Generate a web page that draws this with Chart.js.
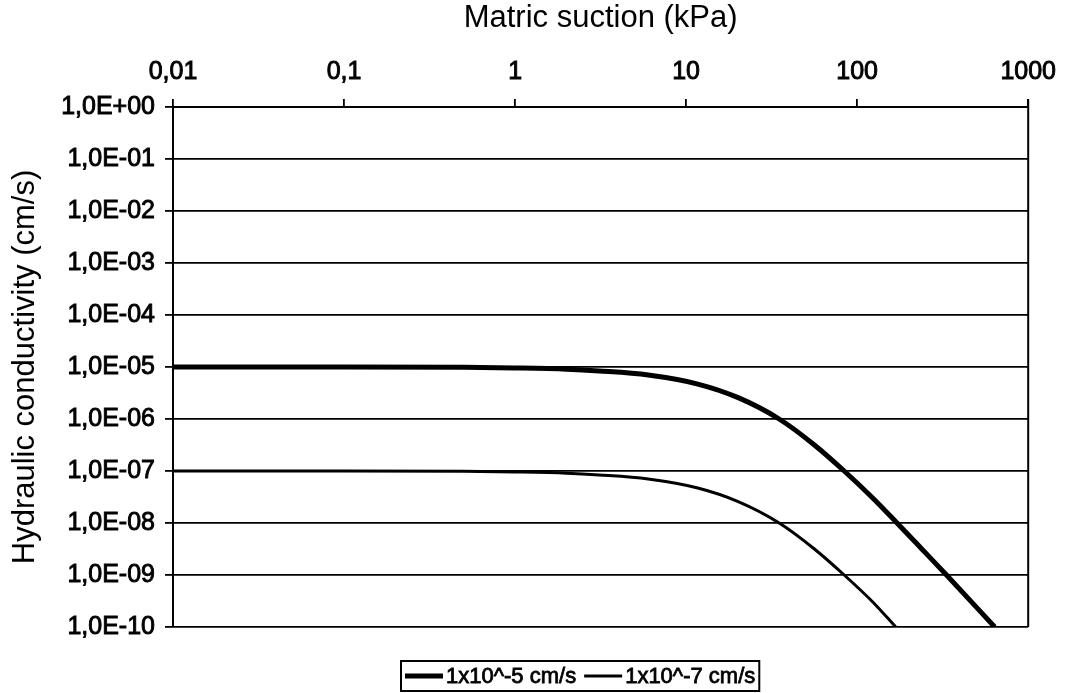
<!DOCTYPE html>
<html>
<head>
<meta charset="utf-8">
<script src="https://cdn.jsdelivr.net/npm/chart.js@4/dist/chart.umd.min.js"></script>
<style>
  html, body { margin: 0; padding: 0; background: #ffffff; }
  #wrap { width: 1068px; height: 693px; }
</style>
</head>
<body>
<div id="wrap"><canvas id="c" width="1068" height="693"></canvas></div>
<script>
// Matric suction (kPa) and hydraulic conductivity (cm/s) for two soils
const suctionHigh = [0.01, 0.1, 0.5, 1, 2, 3.1, 6, 11.7, 20, 35, 56, 84, 125, 171, 238, 333, 637];
const kHigh = [1.0e-5, 1.0e-5, 9.85e-6, 9.6e-6, 9.1e-6, 8.4e-6, 7.0e-6, 4.7e-6, 2.6e-6, 1.0e-6, 3.2e-7, 1.0e-7, 2.9e-8, 1.0e-8, 3.2e-9, 1.0e-9, 1.0e-10];

const suctionLow = [0.01, 0.1, 0.5, 1, 2, 3.1, 6, 11.7, 20, 35, 56, 84, 125, 168];
const kLow = [1.0e-7, 1.0e-7, 9.85e-8, 9.6e-8, 9.1e-8, 8.4e-8, 7.0e-8, 4.7e-8, 2.6e-8, 1.0e-8, 3.2e-9, 1.0e-9, 2.9e-10, 1.0e-10];

const seriesLabels = ['1x10^-5 cm/s', '1x10^-7 cm/s'];

const xTickValues = [0.01, 0.1, 1, 10, 100, 1000];
const xTickLabels = ['0,01', '0,1', '1', '10', '100', '1000'];
const yTickValues = [1e-10, 1e-9, 1e-8, 1e-7, 1e-6, 1e-5, 1e-4, 1e-3, 1e-2, 1e-1, 1e0];
const yTickLabels = ['1,0E-10', '1,0E-09', '1,0E-08', '1,0E-07', '1,0E-06', '1,0E-05', '1,0E-04', '1,0E-03', '1,0E-02', '1,0E-01', '1,0E+00'];

const FONT = "'Liberation Sans', Arial, sans-serif";

function toPoints(xs, ys) {
  return xs.map((x, i) => ({ x: x, y: ys[i] }));
}

function labelFor(values, labels, value) {
  const i = values.findIndex(v => Math.abs(Math.log10(v) - Math.log10(value)) < 1e-6);
  return i >= 0 ? labels[i] : '';
}

// Right-hand frame line and the boxed legend under the plot
const framePlugin = {
  id: 'frameAndLegend',
  afterDraw(chart) {
    const ctx = chart.ctx;
    const a = chart.chartArea;
    ctx.save();
    ctx.strokeStyle = '#000';
    ctx.lineWidth = 2;
    ctx.beginPath();
    ctx.moveTo(a.right, a.top - 8);
    ctx.lineTo(a.right, a.bottom);
    ctx.stroke();

    // legend
    ctx.font = '22px ' + FONT;
    const markLen = 38, gapMark = 3, gapItem = 8, pad = 4;
    const ds = chart.data.datasets;
    let w = pad;
    ds.forEach((d, i) => {
      w += markLen + gapMark + ctx.measureText(d.label).width;
      if (i < ds.length - 1) w += gapItem;
    });
    w += pad;
    const boxLeft = 401, boxTop = 661, boxH = 30;
    ctx.lineWidth = 2;
    ctx.strokeRect(boxLeft, boxTop, w, boxH);
    let x = boxLeft + pad;
    const cy = boxTop + boxH / 2;
    ctx.fillStyle = '#000';
    ctx.textBaseline = 'middle';
    ctx.textAlign = 'left';
    ds.forEach((d) => {
      ctx.lineWidth = d.borderWidth;
      ctx.beginPath();
      ctx.moveTo(x, cy);
      ctx.lineTo(x + markLen, cy);
      ctx.stroke();
      x += markLen + gapMark;
      ctx.lineWidth = 0.8;
      ctx.strokeText(d.label, x, cy + 1);
      ctx.fillText(d.label, x, cy + 1);
      x += ctx.measureText(d.label).width + gapItem;
    });
    ctx.restore();
  }
};

new Chart(document.getElementById('c'), {
  type: 'line',
  data: {
    datasets: [
      {
        label: seriesLabels[0],
        data: toPoints(suctionHigh, kHigh),
        borderColor: '#000',
        borderWidth: 5,
        pointRadius: 0,
        cubicInterpolationMode: 'monotone',
        fill: false
      },
      {
        label: seriesLabels[1],
        data: toPoints(suctionLow, kLow),
        borderColor: '#000',
        borderWidth: 3,
        pointRadius: 0,
        cubicInterpolationMode: 'monotone',
        fill: false
      }
    ]
  },
  options: {
    responsive: false,
    animation: false,
    layout: { padding: { left: 0, right: 36, top: 0, bottom: 66 } },
    plugins: {
      legend: { display: false },
      tooltip: { enabled: false }
    },
    scales: {
      x: {
        type: 'logarithmic',
        position: 'top',
        min: 0.01,
        max: 1000,
        afterBuildTicks(scale) {
          scale.ticks = xTickValues.map(v => ({ value: v }));
        },
        afterFit(scale) { scale.height = 107; },
        ticks: {
          autoSkip: false,
          maxRotation: 0,
          padding: 12,
          color: '#000',
          textStrokeColor: '#000',
          textStrokeWidth: 0.9,
          font: { family: FONT, size: 25 },
          callback(value) { return labelFor(xTickValues, xTickLabels, value); }
        },
        grid: {
          drawOnChartArea: false,
          drawTicks: true,
          tickLength: 8,
          color: '#000',
          lineWidth: 1.8
        },
        border: { display: true, color: '#000', width: 2 },
        title: {
          display: true,
          text: 'Matric suction (kPa)',
          color: '#000',
          font: { family: FONT, size: 31 },
          padding: { top: 0, bottom: 0 }
        }
      },
      y: {
        type: 'logarithmic',
        min: 1e-10,
        max: 1,
        afterBuildTicks(scale) {
          scale.ticks = yTickValues.map(v => ({ value: v }));
        },
        afterFit(scale) { scale.width = 173; },
        ticks: {
          autoSkip: false,
          padding: 10,
          color: '#000',
          textStrokeColor: '#000',
          textStrokeWidth: 0.9,
          font: { family: FONT, size: 25 },
          callback(value) { return labelFor(yTickValues, yTickLabels, value); }
        },
        grid: {
          drawOnChartArea: true,
          drawTicks: true,
          tickLength: 8,
          color: '#000',
          lineWidth: 1.8
        },
        border: { display: true, color: '#000', width: 2 },
        title: {
          display: true,
          text: 'Hydraulic conductivity (cm/s)',
          color: '#000',
          font: { family: FONT, size: 31 },
          padding: { top: 7, bottom: 0 }
        }
      }
    }
  },
  plugins: [framePlugin]
});
</script>
</body>
</html>
